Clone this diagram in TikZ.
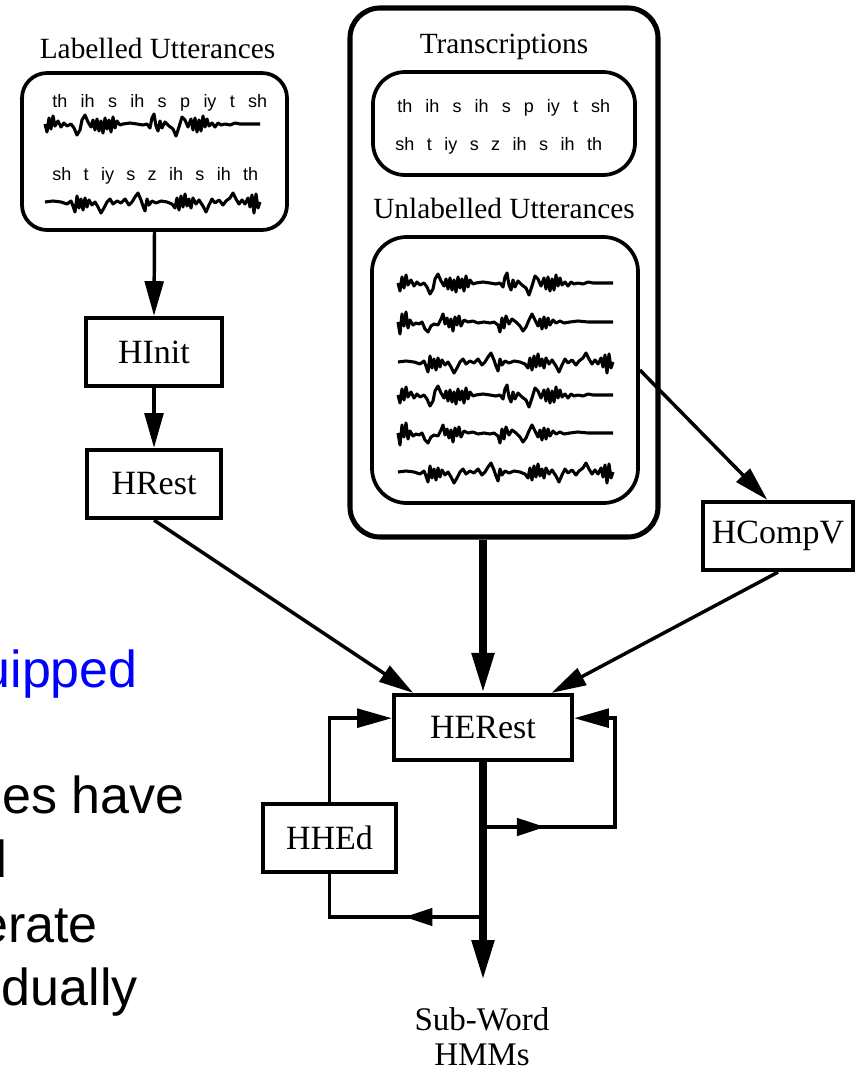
\documentclass[tikz,border=0pt]{standalone}
\usepackage{fontspec}
\setmainfont{Liberation Serif}
\newfontfamily\slidefont{Liberation Sans}
\usetikzlibrary{arrows.meta,decorations.markings}

\definecolor{slideblue}{RGB}{0,0,255}

\tikzset{
  tool/.style={draw, line width=3.2pt, inner sep=0pt, minimum height=51pt, font=\fontsize{25.5}{28}\selectfont},
  store/.style={draw, line width=2.8pt, inner sep=0pt},
  title/.style={anchor=base, inner sep=0pt, font=\fontsize{22}{24}\selectfont},
  phones/.style={anchor=base west, inner sep=0pt, font=\slidefont\fontsize{13.5}{15}\selectfont},
  slide/.style={anchor=base east, inner sep=0pt, font=\slidefont\fontsize{39}{44}\selectfont},
  wave/.style={line width=2.3pt, line join=round},
  flow/.style={line width=2.6pt, -{Triangle[length=26pt,width=14pt]}},
  bigflow/.style={line width=5.5pt, -{Triangle[length=30pt,width=16pt]}},
  midarrow/.style={postaction={decorate}, decoration={markings, mark=at position #1 with {\arrow{Triangle[length=21pt,width=13pt]}}}},
  waveA/.pic={\draw[wave] (0,0) -- (2,-8) -- (4,6) -- (6,-5) -- (8,8) -- (10,-2) -- (13,3) -- (16,-3) -- (19,1) -- (22,-2) -- (26,0) -- (29,-4) -- (32,-11) -- (35,-6) -- (37,4) -- (40,9) -- (43,2) -- (46,-3) -- (48,4) -- (50,-6) -- (52,5) -- (54,-7) -- (56,3) -- (58,-9) -- (60,6) -- (62,-5) -- (64,4) -- (66,-8) -- (68,7) -- (70,-4) -- (72,3) -- (75,-1) -- (78,0) -- (85,1) -- (92,0) -- (98,-1) -- (102,0) -- (105,-4) -- (107,6) -- (109,10) -- (111,-2) -- (113,-7) -- (115,3) -- (117,-4) -- (120,2) -- (124,-2) -- (128,-5) -- (131,-12) -- (134,-3) -- (137,7) -- (140,4) -- (143,-3) -- (146,5) -- (148,-6) -- (150,6) -- (152,-8) -- (154,4) -- (156,-7) -- (158,8) -- (160,-3) -- (162,5) -- (164,-2) -- (167,1) -- (170,-3) -- (173,1) -- (176,-1) -- (180,0) -- (185,-1) -- (190,1) -- (195,0) -- (200,0) -- (215,0);},
  waveB/.pic={\draw[wave] (0,0) -- (2,-12) -- (4,8) -- (6,-4) -- (8,10) -- (10,-6) -- (12,2) -- (15,-3) -- (18,-1) -- (21,-2) -- (24,0) -- (27,-7) -- (30,-10) -- (33,-4) -- (36,-2) -- (40,-3) -- (43,3) -- (45,8) -- (47,-2) -- (49,4) -- (51,-5) -- (53,3) -- (55,-9) -- (57,5) -- (59,-3) -- (61,6) -- (63,-4) -- (66,2) -- (70,0) -- (75,1) -- (80,-1) -- (86,0) -- (92,-1) -- (96,0) -- (100,-3) -- (102,-10) -- (104,4) -- (106,-6) -- (108,6) -- (111,-2) -- (114,3) -- (118,0) -- (122,-4) -- (125,-9) -- (128,-5) -- (131,2) -- (134,8) -- (137,2) -- (140,-4) -- (142,3) -- (144,-7) -- (146,5) -- (148,-6) -- (150,4) -- (152,-3) -- (155,2) -- (158,-1) -- (162,1) -- (166,-1) -- (172,0) -- (180,1) -- (190,0) -- (200,0) -- (215,0);},
  waveC/.pic={\draw[wave] (0,0) -- (8,1) -- (16,0) -- (22,-2) -- (26,1) -- (28,-4) -- (30,-10) -- (32,6) -- (34,-6) -- (36,3) -- (38,-8) -- (40,4) -- (42,-5) -- (44,2) -- (47,-3) -- (50,0) -- (53,-5) -- (56,-11) -- (59,-6) -- (62,0) -- (65,3) -- (68,-2) -- (72,1) -- (76,-1) -- (80,3) -- (84,-3) -- (87,0) -- (90,5) -- (93,9) -- (96,2) -- (98,-4) -- (100,-9) -- (102,3) -- (104,-3) -- (107,1) -- (111,-1) -- (116,1) -- (122,0) -- (127,-2) -- (130,-6) -- (132,4) -- (134,-8) -- (136,6) -- (138,-5) -- (140,8) -- (142,-4) -- (144,3) -- (146,-6) -- (148,4) -- (151,-2) -- (154,2) -- (158,-4) -- (161,-10) -- (164,-3) -- (167,3) -- (170,-1) -- (174,2) -- (178,-3) -- (181,1) -- (185,4) -- (188,9) -- (191,3) -- (194,-2) -- (197,2) -- (200,-2) -- (203,4) -- (205,-5) -- (207,7) -- (209,-11) -- (211,8) -- (213,-6) -- (215,0);}
}

\begin{document}
\begin{tikzpicture}[x=0.75pt,y=0.75pt,yscale=-1,xscale=1]
\useasboundingbox (0,0) rectangle (856,1071);

% slide text cut off at the left edge
\node[slide, text=slideblue] (slideA) at (138,687) {uipped};
\node[slide] (slideB) at (185,813) {es have};
\node[slide] (slideC) at (8,877) {d};
\node[slide] (slideD) at (98,942) {erate};
\node[slide] (slideE) at (138,1005) {dually};

% labelled data
\node[title] (lblTitle) at (157.5,58) {Labelled Utterances};
\node[store, rounded corners=18.75pt, minimum width=198.75pt, minimum height=117.75pt] (lblBox) at (154.5,151.5) {};
\node[phones] (lblPhA) at (52,107) {\makebox[161.25pt][s]{th ih s ih s p iy t sh}};
\pic at (45,124) {waveA};
\node[phones] (lblPhB) at (52,180) {\makebox[154.5pt][s]{sh t iy s z ih s ih th}};
\pic at (45,202) {waveC};

% training data
\node[store, line width=3.8pt, rounded corners=22.5pt, minimum width=231pt, minimum height=396.75pt] (trainBox) at (504,272.5) {};
\node[title] (transTitle) at (504,53) {Transcriptions};
\node[store, rounded corners=24pt, minimum width=196.5pt, minimum height=77.25pt] (transBox) at (504,123.5) {};
\node[phones] (transPhA) at (397,112) {\makebox[159.75pt][s]{th ih s ih s p iy t sh}};
\node[phones] (transPhB) at (395,150) {\makebox[155.25pt][s]{sh t iy s z ih s ih th}};
\node[title] (unlTitle) at (504,218) {Unlabelled Utterances};
\node[store, rounded corners=26pt, minimum width=199.5pt, minimum height=199.5pt] (unlBox) at (505,370) {};
\pic at (398,283) {waveA};
\pic at (398,322) {waveB};
\pic at (398,362) {waveC};
\pic at (398,395) {waveA};
\pic at (398,433) {waveB};
\pic at (398,472) {waveC};

% tools
\node[tool, minimum width=102pt] (HInit) at (154,352) {HInit};
\node[tool, minimum width=100.5pt] (HRest) at (154,484) {HRest};
\node[tool, minimum width=112.5pt] (HCompV) at (778,536) {HCompV};
\node[tool, minimum width=133.5pt, minimum height=48.75pt] (HERest) at (483,727.5) {HERest};
\node[tool, minimum width=99.75pt] (HHEd) at (329.5,838) {HHEd};
\node[align=center, inner sep=0pt, font=\fontsize{24.75}{26}\selectfont] (hmms) at (482,1037) {Sub-Word\\HMMs};

\coordinate (splitR) at (483,827);
\coordinate (loopR) at (615,827);
\coordinate (splitL) at (483,917);
\coordinate (outEnd) at (483,980);

% connectors
\draw[flow] (lblBox.south) -- (HInit.north);
\draw[flow] (HInit.south) -- (HRest.north);
\draw[flow] (HRest.south) -- ([xshift=16pt]HERest.north west);
\draw[bigflow] (trainBox.south -| HERest.north) -- (HERest.north);
\draw[flow] (unlBox.east) -- ([xshift=-8pt]HCompV.north);
\draw[flow] (HCompV.south) -- ([xshift=-17pt]HERest.north east);
\draw[flow] (HHEd.north) |- ([yshift=-7pt]HERest.west);
\draw[bigflow] (HERest.south) -- (outEnd);
\draw[flow, midarrow=0.22] (splitR) -- (loopR) |- ([yshift=-7pt]HERest.east);
\draw[line width=2.6pt, midarrow=0.4] (splitL) -| (HHEd.south);

\end{tikzpicture}
\end{document}
